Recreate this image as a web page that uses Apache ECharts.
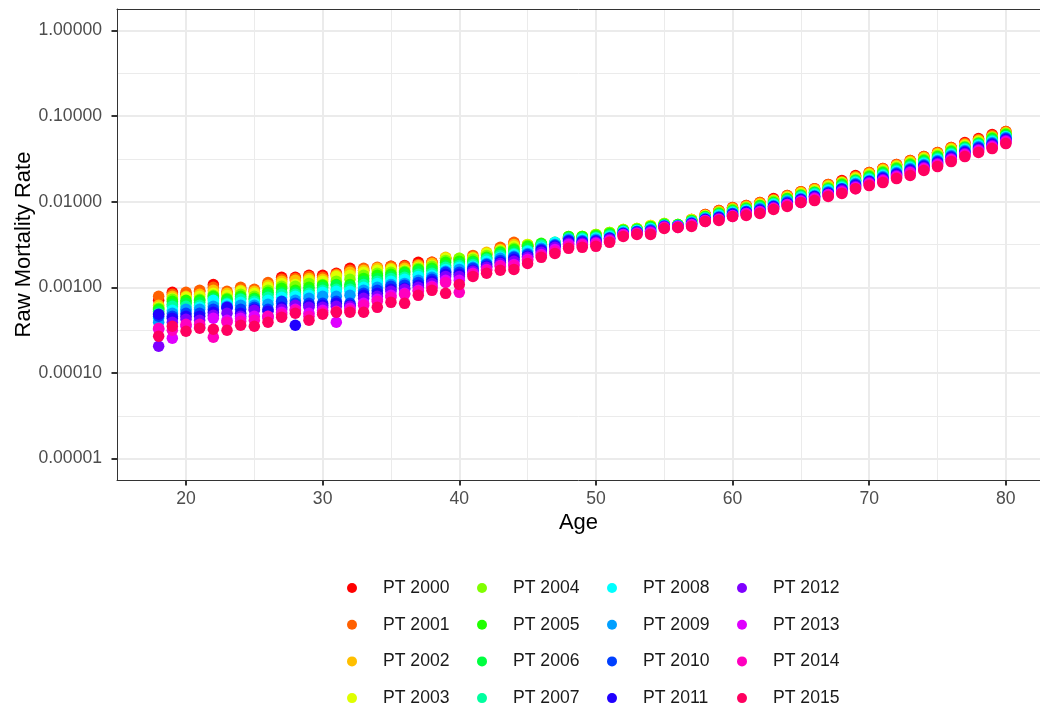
<!DOCTYPE html>
<html>
<head>
<meta charset="utf-8">
<title>Raw Mortality Rate by Age</title>
<script src="https://cdn.jsdelivr.net/npm/echarts@6/dist/echarts.min.js"></script>
<style>
  html, body { margin: 0; padding: 0; background: #ffffff; }
  #chart { width: 1040px; height: 709px; }
</style>
</head>
<body>
<div id="chart"></div>
<script>
// ages on the x axis
const ages = [18, 19, 20, 21, 22, 23, 24, 25, 26, 27, 28, 29, 30, 31, 32, 33, 34, 35, 36, 37, 38, 39, 40,
  41, 42, 43, 44, 45, 46, 47, 48, 49, 50, 51, 52, 53, 54, 55, 56, 57, 58, 59, 60,
  61, 62, 63, 64, 65, 66, 67, 68, 69, 70, 71, 72, 73, 74, 75, 76, 77, 78, 79, 80];

// raw mortality rates, one array per year
const pt2000 = [0.000705, 0.000874, 0.000828, 0.000898, 0.00108, 0.000851, 0.000947, 0.000898, 0.00108, 0.00131, 0.00131, 0.00138, 0.00138, 0.00146, 0.00167, 0.00158, 0.00167, 0.00176, 0.00180, 0.00196, 0.00196, 0.00218, 0.00212, 0.00224, 0.00242, 0.00285, 0.00326, 0.00301, 0.00301, 0.00317, 0.00373, 0.00383, 0.00404, 0.00426, 0.00462, 0.00474, 0.00514, 0.00542, 0.00528, 0.00620, 0.00709, 0.00790, 0.00856, 0.00903, 0.00979, 0.0109, 0.0118, 0.0131, 0.0142, 0.0159, 0.0177, 0.0202, 0.0219, 0.0244, 0.0271, 0.0302, 0.0336, 0.0375, 0.0428, 0.0490, 0.0545, 0.0607, 0.0658];
const pt2001 = [0.000785, 0.000828, 0.000874, 0.000922, 0.00100, 0.000898, 0.00100, 0.000947, 0.00114, 0.00124, 0.00127, 0.00134, 0.00131, 0.00142, 0.00158, 0.00167, 0.00171, 0.00176, 0.00176, 0.00185, 0.00196, 0.00218, 0.00212, 0.00236, 0.00249, 0.00293, 0.00335, 0.00309, 0.00309, 0.00317, 0.00373, 0.00383, 0.00404, 0.00426, 0.00462, 0.00474, 0.00514, 0.00542, 0.00528, 0.00620, 0.00709, 0.00790, 0.00856, 0.00903, 0.00979, 0.0106, 0.0118, 0.0131, 0.0142, 0.0159, 0.0172, 0.0197, 0.0219, 0.0244, 0.0271, 0.0302, 0.0336, 0.0375, 0.0428, 0.0477, 0.0531, 0.0591, 0.0658];
const pt2002 = [0.000616, 0.000785, 0.000785, 0.000828, 0.000922, 0.000851, 0.000922, 0.000898, 0.00106, 0.00118, 0.00121, 0.00127, 0.00124, 0.00138, 0.00150, 0.00158, 0.00167, 0.00167, 0.00167, 0.00180, 0.00190, 0.00224, 0.00212, 0.00224, 0.00256, 0.00277, 0.00317, 0.00317, 0.00309, 0.00326, 0.00383, 0.00393, 0.00415, 0.00438, 0.00474, 0.00487, 0.00528, 0.00557, 0.00542, 0.00620, 0.00690, 0.00769, 0.00833, 0.00879, 0.00953, 0.0103, 0.0115, 0.0128, 0.0139, 0.0154, 0.0167, 0.0191, 0.0213, 0.0237, 0.0264, 0.0294, 0.0328, 0.0365, 0.0417, 0.0464, 0.0517, 0.0575, 0.0641];
const pt2003 = [0.000584, 0.000744, 0.000764, 0.000785, 0.000851, 0.000806, 0.000898, 0.000851, 0.00100, 0.00111, 0.00108, 0.00121, 0.00118, 0.00134, 0.00138, 0.00150, 0.00158, 0.00162, 0.00158, 0.00171, 0.00180, 0.00218, 0.00218, 0.00218, 0.00249, 0.00270, 0.00301, 0.00317, 0.00317, 0.00326, 0.00383, 0.00393, 0.00415, 0.00438, 0.00474, 0.00487, 0.00528, 0.00557, 0.00542, 0.00620, 0.00690, 0.00748, 0.00811, 0.00856, 0.00927, 0.0103, 0.0112, 0.0125, 0.0135, 0.0150, 0.0167, 0.0186, 0.0207, 0.0231, 0.0257, 0.0286, 0.0319, 0.0355, 0.0406, 0.0452, 0.0503, 0.0560, 0.0624];
const pt2004 = [0.000569, 0.000724, 0.000668, 0.000724, 0.000806, 0.000744, 0.000828, 0.000785, 0.000922, 0.00103, 0.00103, 0.00111, 0.00108, 0.00118, 0.00124, 0.00138, 0.00146, 0.00150, 0.00154, 0.00167, 0.00176, 0.00206, 0.00218, 0.00212, 0.00236, 0.00263, 0.00285, 0.00309, 0.00317, 0.00326, 0.00393, 0.00393, 0.00415, 0.00438, 0.00474, 0.00487, 0.00514, 0.00557, 0.00542, 0.00604, 0.00672, 0.00748, 0.00811, 0.00856, 0.00903, 0.0101, 0.0109, 0.0121, 0.0131, 0.0146, 0.0163, 0.0181, 0.0202, 0.0225, 0.0250, 0.0279, 0.0310, 0.0346, 0.0395, 0.0440, 0.0490, 0.0560, 0.0624];
const pt2005 = [0.000554, 0.000686, 0.000705, 0.000705, 0.000785, 0.000724, 0.000785, 0.000744, 0.000874, 0.000973, 0.000922, 0.00100, 0.00106, 0.00108, 0.00108, 0.00127, 0.00138, 0.00142, 0.00150, 0.00162, 0.00167, 0.00196, 0.00201, 0.00201, 0.00224, 0.00256, 0.00277, 0.00301, 0.00326, 0.00335, 0.00393, 0.00393, 0.00404, 0.00426, 0.00462, 0.00474, 0.00514, 0.00542, 0.00542, 0.00604, 0.00672, 0.00729, 0.00790, 0.00833, 0.00903, 0.00979, 0.0109, 0.0118, 0.0128, 0.0142, 0.0159, 0.0177, 0.0197, 0.0219, 0.0244, 0.0271, 0.0302, 0.0336, 0.0385, 0.0428, 0.0477, 0.0545, 0.0607];
const pt2006 = [0.000525, 0.000633, 0.000650, 0.000668, 0.000744, 0.000686, 0.000744, 0.000724, 0.000828, 0.000874, 0.000874, 0.000922, 0.00100, 0.00106, 0.00103, 0.00118, 0.00127, 0.00134, 0.00142, 0.00154, 0.00158, 0.00180, 0.00190, 0.00196, 0.00218, 0.00249, 0.00263, 0.00285, 0.00317, 0.00326, 0.00383, 0.00383, 0.00393, 0.00415, 0.00462, 0.00474, 0.00500, 0.00542, 0.00528, 0.00588, 0.00654, 0.00709, 0.00769, 0.00811, 0.00879, 0.00953, 0.0106, 0.0118, 0.0128, 0.0139, 0.0154, 0.0177, 0.0191, 0.0213, 0.0237, 0.0264, 0.0294, 0.0328, 0.0375, 0.0428, 0.0477, 0.0531, 0.0591];
const pt2007 = [0.000498, 0.000600, 0.000600, 0.000616, 0.000650, 0.000650, 0.000724, 0.000686, 0.000764, 0.000828, 0.000828, 0.000851, 0.000922, 0.000947, 0.000947, 0.00108, 0.00118, 0.00127, 0.00131, 0.00142, 0.00146, 0.00171, 0.00180, 0.00185, 0.00212, 0.00236, 0.00249, 0.00270, 0.00309, 0.00326, 0.00373, 0.00373, 0.00383, 0.00404, 0.00449, 0.00462, 0.00487, 0.00528, 0.00528, 0.00588, 0.00654, 0.00709, 0.00769, 0.00811, 0.00856, 0.00953, 0.0103, 0.0115, 0.0125, 0.0139, 0.0150, 0.0172, 0.0186, 0.0207, 0.0231, 0.0257, 0.0286, 0.0319, 0.0365, 0.0417, 0.0464, 0.0517, 0.0575];
const pt2008 = [0.000435, 0.000539, 0.000539, 0.000584, 0.000705, 0.000633, 0.000668, 0.000650, 0.000705, 0.000764, 0.000785, 0.000806, 0.000874, 0.000898, 0.000898, 0.00100, 0.00111, 0.00118, 0.00124, 0.00134, 0.00138, 0.00162, 0.00171, 0.00176, 0.00201, 0.00224, 0.00242, 0.00263, 0.00293, 0.00335, 0.00363, 0.00363, 0.00373, 0.00393, 0.00449, 0.00462, 0.00487, 0.00528, 0.00528, 0.00572, 0.00637, 0.00690, 0.00748, 0.00790, 0.00833, 0.00927, 0.0101, 0.0112, 0.0121, 0.0135, 0.0146, 0.0167, 0.0181, 0.0202, 0.0225, 0.0250, 0.0279, 0.0310, 0.0355, 0.0406, 0.0452, 0.0503, 0.0575];
const pt2009 = [0.000391, 0.000498, 0.000554, 0.000554, 0.000600, 0.000600, 0.000616, 0.000616, 0.000633, 0.000650, 0.000705, 0.000744, 0.000785, 0.000785, 0.000806, 0.000922, 0.00100, 0.00108, 0.00111, 0.00121, 0.00131, 0.00154, 0.00162, 0.00171, 0.00190, 0.00218, 0.00230, 0.00249, 0.00285, 0.00317, 0.00363, 0.00353, 0.00363, 0.00383, 0.00438, 0.00449, 0.00474, 0.00528, 0.00528, 0.00572, 0.00637, 0.00672, 0.00729, 0.00769, 0.00833, 0.00903, 0.0101, 0.0109, 0.0118, 0.0131, 0.0142, 0.0163, 0.0177, 0.0197, 0.0219, 0.0244, 0.0271, 0.0302, 0.0346, 0.0395, 0.0440, 0.0490, 0.0560];
const pt2010 = [0.000459, 0.000459, 0.000498, 0.000498, 0.000554, 0.000569, 0.000554, 0.000584, 0.000554, 0.000686, 0.000650, 0.000650, 0.000650, 0.000686, 0.000650, 0.000851, 0.000922, 0.00103, 0.00106, 0.00114, 0.00124, 0.00150, 0.00150, 0.00167, 0.00185, 0.00206, 0.00224, 0.00242, 0.00277, 0.00309, 0.00353, 0.00344, 0.00353, 0.00373, 0.00426, 0.00449, 0.00462, 0.00514, 0.00514, 0.00557, 0.00620, 0.00654, 0.00729, 0.00769, 0.00811, 0.00879, 0.00979, 0.0106, 0.0115, 0.0128, 0.0142, 0.0159, 0.0172, 0.0191, 0.0213, 0.0237, 0.0264, 0.0294, 0.0336, 0.0385, 0.0428, 0.0477, 0.0545];
const pt2011 = [0.000484, 0.000435, 0.000459, 0.000459, 0.000511, 0.000584, 0.000498, 0.000554, 0.000525, 0.000584, 0.000361, 0.000616, 0.000616, 0.000650, 0.000616, 0.000806, 0.000851, 0.000947, 0.000973, 0.00106, 0.00118, 0.00142, 0.00142, 0.00158, 0.00176, 0.00196, 0.00212, 0.00230, 0.00270, 0.00301, 0.00344, 0.00335, 0.00344, 0.00373, 0.00426, 0.00438, 0.00449, 0.00514, 0.00514, 0.00557, 0.00620, 0.00654, 0.00709, 0.00748, 0.00790, 0.00879, 0.00953, 0.0106, 0.0115, 0.0125, 0.0139, 0.0154, 0.0172, 0.0186, 0.0207, 0.0231, 0.0257, 0.0286, 0.0328, 0.0375, 0.0417, 0.0464, 0.0531];
const pt2012 = [0.000205, 0.000391, 0.000424, 0.000413, 0.000472, 0.000498, 0.000459, 0.000539, 0.000459, 0.000554, 0.000616, 0.000584, 0.000584, 0.000600, 0.000600, 0.000744, 0.000785, 0.000898, 0.000947, 0.00100, 0.00111, 0.00134, 0.00134, 0.00154, 0.00171, 0.00190, 0.00201, 0.00224, 0.00256, 0.00293, 0.00326, 0.00326, 0.00335, 0.00363, 0.00415, 0.00438, 0.00449, 0.00514, 0.00514, 0.00542, 0.00604, 0.00637, 0.00690, 0.00729, 0.00769, 0.00856, 0.00927, 0.0103, 0.0112, 0.0121, 0.0135, 0.0150, 0.0167, 0.0181, 0.0202, 0.0225, 0.0250, 0.0279, 0.0319, 0.0365, 0.0406, 0.0452, 0.0517];
const pt2013 = [0.000324, 0.000255, 0.000351, 0.000342, 0.000435, 0.000413, 0.000435, 0.000459, 0.000435, 0.000511, 0.000554, 0.000498, 0.000539, 0.000391, 0.000569, 0.000650, 0.000724, 0.000806, 0.000851, 0.000922, 0.00103, 0.00121, 0.00121, 0.00146, 0.00162, 0.00180, 0.00185, 0.00212, 0.00242, 0.00277, 0.00317, 0.00317, 0.00326, 0.00353, 0.00415, 0.00426, 0.00438, 0.00500, 0.00514, 0.00542, 0.00604, 0.00620, 0.00690, 0.00729, 0.00769, 0.00833, 0.00927, 0.0101, 0.0109, 0.0121, 0.0131, 0.0146, 0.0163, 0.0177, 0.0197, 0.0219, 0.0244, 0.0271, 0.0310, 0.0355, 0.0395, 0.0440, 0.0503];
const pt2014 = [0.000333, 0.000315, 0.000371, 0.000371, 0.000261, 0.000391, 0.000402, 0.000413, 0.000459, 0.000484, 0.000539, 0.000459, 0.000511, 0.000525, 0.000539, 0.000616, 0.000686, 0.000764, 0.000828, 0.000898, 0.00100, 0.00114, 0.000874, 0.00142, 0.00158, 0.00176, 0.00180, 0.00206, 0.00236, 0.00263, 0.00301, 0.00309, 0.00317, 0.00344, 0.00404, 0.00426, 0.00426, 0.00500, 0.00500, 0.00528, 0.00588, 0.00620, 0.00672, 0.00709, 0.00748, 0.00833, 0.00903, 0.00979, 0.0106, 0.0118, 0.0128, 0.0142, 0.0159, 0.0172, 0.0191, 0.0213, 0.0237, 0.0264, 0.0302, 0.0346, 0.0385, 0.0428, 0.0490];
const pt2015 = [0.000268, 0.000351, 0.000307, 0.000333, 0.000324, 0.000315, 0.000361, 0.000351, 0.000391, 0.000447, 0.000498, 0.000413, 0.000484, 0.000511, 0.000511, 0.000511, 0.000584, 0.000668, 0.000650, 0.000806, 0.000922, 0.000851, 0.00108, 0.00134, 0.00146, 0.00158, 0.00162, 0.00190, 0.00224, 0.00249, 0.00285, 0.00293, 0.00301, 0.00335, 0.00393, 0.00415, 0.00415, 0.00487, 0.00500, 0.00514, 0.00588, 0.00604, 0.00672, 0.00690, 0.00729, 0.00811, 0.00879, 0.00979, 0.0103, 0.0115, 0.0125, 0.0142, 0.0154, 0.0167, 0.0186, 0.0202, 0.0231, 0.0257, 0.0294, 0.0336, 0.0375, 0.0417, 0.0477];

const yearLabels = ['PT 2000', 'PT 2001', 'PT 2002', 'PT 2003', 'PT 2004', 'PT 2005', 'PT 2006', 'PT 2007',
  'PT 2008', 'PT 2009', 'PT 2010', 'PT 2011', 'PT 2012', 'PT 2013', 'PT 2014', 'PT 2015'];
const yearColors = ['#FF0000', '#FF6000', '#FFBF00', '#DFFF00', '#80FF00', '#20FF00', '#00FF40', '#00FF9F',
  '#00FFFF', '#009FFF', '#0040FF', '#2000FF', '#7F00FF', '#DF00FF', '#FF00BF', '#FF0060'];

// axis ticks
const xMajorTicks = [20, 30, 40, 50, 60, 70, 80];
const xMinorTicks = [25, 35, 45, 55, 65, 75];
const yMajorTicks = [0.00001, 0.0001, 0.001, 0.01, 0.1, 1];
const yMinorTicks = [0.000031623, 0.00031623, 0.0031623, 0.031623, 0.31623];

const allSeries = [pt2000, pt2001, pt2002, pt2003, pt2004, pt2005, pt2006, pt2007,
  pt2008, pt2009, pt2010, pt2011, pt2012, pt2013, pt2014, pt2015];
allSeries.forEach((s, i) => {
  if (s.length !== ages.length) throw new Error(yearLabels[i] + ' has ' + s.length + ' values');
});

const FONT = "'Liberation Sans', Arial, sans-serif";
const gridColor = '#EBEBEB';
const borderLine = { show: true, lineStyle: { color: '#333333', width: 1 } };

const chart = echarts.init(document.getElementById('chart'), null, { renderer: 'canvas' });

// the panel is cut off at the right edge of the picture, so no right border:
// top, bottom and left borders come from axis lines instead of the grid box
const option = {
  animation: false,
  backgroundColor: '#ffffff',
  textStyle: { fontFamily: FONT },
  grid: {
    left: 117, top: 9, width: 923, height: 471,
    containLabel: false,
    outerBoundsMode: 'none',
    show: false
  },
  xAxis: [
    {
      type: 'value', min: 14.95, max: 82.5,
      name: 'Age', nameLocation: 'middle', nameGap: 32, nameMoveOverlap: false,
      nameTextStyle: { fontSize: 22, color: '#000000', fontFamily: FONT },
      axisLine: borderLine,
      axisTick: { show: true, length: 5.5, customValues: xMajorTicks, lineStyle: { color: '#333333', width: 2 } },
      axisLabel: { customValues: xMajorTicks, fontSize: 17.6, color: '#4D4D4D', margin: 10, fontFamily: FONT },
      splitLine: { show: true, lineStyle: { color: gridColor, width: 2 } }
    },
    {
      type: 'value', min: 14.95, max: 82.5, position: 'top',
      axisLine: borderLine,
      axisTick: { show: false, customValues: xMinorTicks },
      axisLabel: { show: false, customValues: xMinorTicks },
      splitLine: { show: true, lineStyle: { color: gridColor, width: 1 } }
    }
  ],
  yAxis: [
    {
      type: 'log', logBase: 10, min: 0.0000056234, max: 1.7783,
      name: 'Raw Mortality Rate', nameLocation: 'middle', nameGap: 82, nameMoveOverlap: false,
      nameTextStyle: { fontSize: 22, color: '#000000', fontFamily: FONT },
      axisLine: borderLine,
      axisTick: { show: true, length: 5.5, customValues: yMajorTicks, lineStyle: { color: '#333333', width: 2 } },
      axisLabel: {
        customValues: yMajorTicks, fontSize: 17.6, color: '#4D4D4D', margin: 15, fontFamily: FONT,
        formatter: (v) => Number(v).toFixed(5)
      },
      splitLine: { show: true, lineStyle: { color: gridColor, width: 2 } }
    },
    {
      type: 'log', logBase: 10, min: 0.0000056234, max: 1.7783, position: 'right',
      axisLine: { show: false },
      axisTick: { show: false, customValues: yMinorTicks },
      axisLabel: { show: false, customValues: yMinorTicks },
      splitLine: { show: true, lineStyle: { color: gridColor, width: 1 } }
    }
  ],
  legend: [0, 1, 2, 3].map((c) => ({
    orient: 'vertical',
    left: 347 + c * 130,
    top: 578,
    data: yearLabels.slice(c * 4, c * 4 + 4),
    icon: 'circle',
    itemWidth: 52,
    itemHeight: 10,
    itemGap: 16.7,
    padding: 0,
    textStyle: { fontSize: 17.6, color: '#1A1A1A', lineHeight: 20, fontFamily: FONT }
  })),
  series: allSeries.map((vals, i) => ({
    name: yearLabels[i],
    type: 'scatter',
    xAxisIndex: 0,
    yAxisIndex: 0,
    symbol: 'circle',
    symbolSize: 11.5,
    itemStyle: { color: yearColors[i], opacity: 1 },
    emphasis: { disabled: true },
    data: ages.map((a, j) => [a, vals[j]])
  }))
};

chart.setOption(option);
window.addEventListener('resize', () => chart.resize());
</script>
</body>
</html>
